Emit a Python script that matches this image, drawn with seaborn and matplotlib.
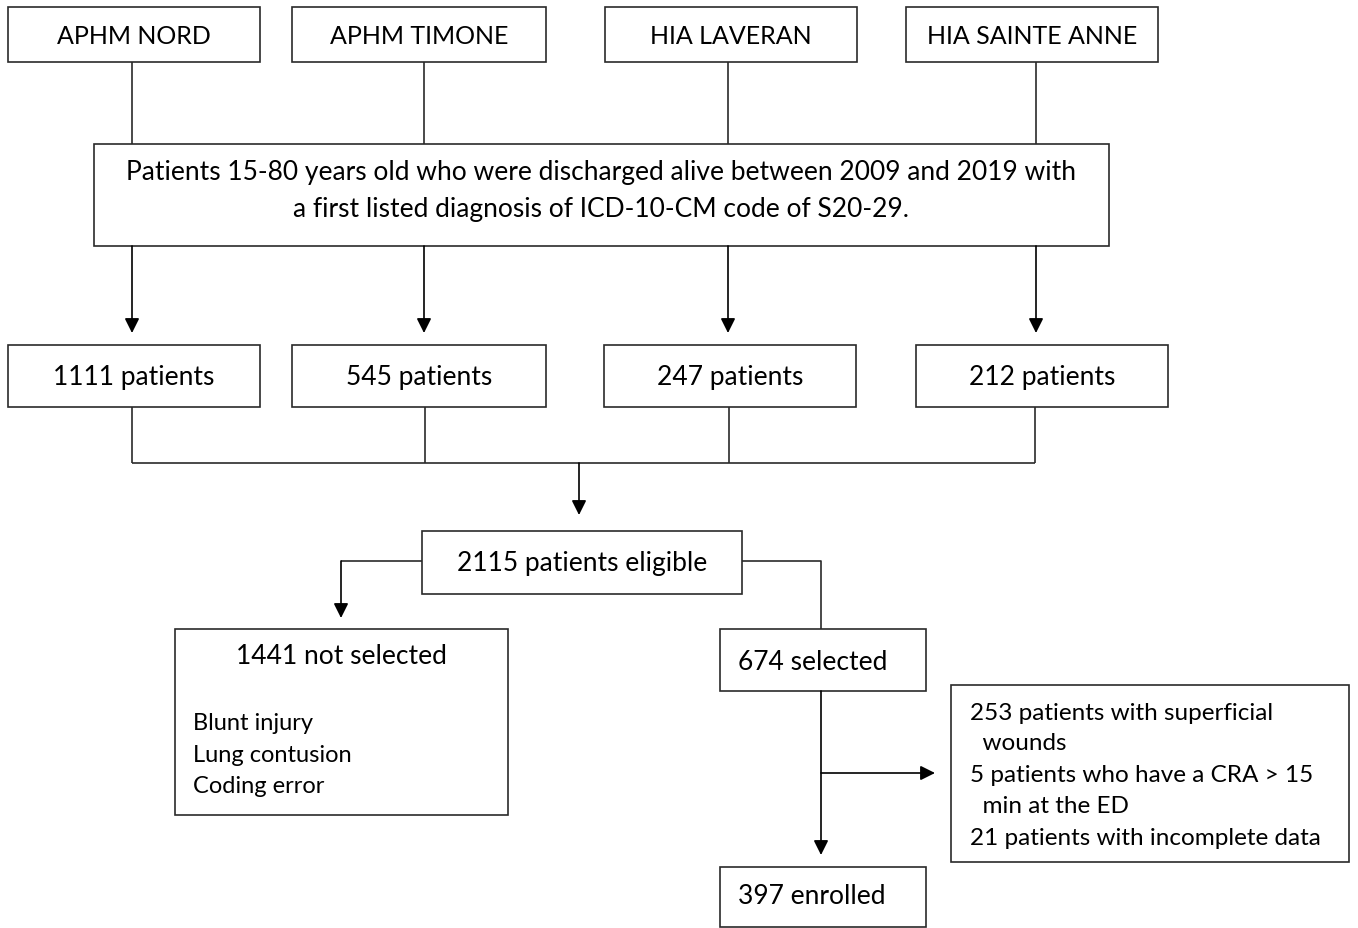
import seaborn as sns
import matplotlib.pyplot as plt
from matplotlib.patches import Rectangle

sns.set_style("white")
plt.rcParams['font.family'] = ['Lato', 'DejaVu Sans']

# Datos del diagrama de flujo
centros = ["APHM NORD", "APHM TIMONE", "HIA LAVERAN", "HIA SAINTE ANNE"]
pacientes_centro = [1111, 545, 247, 212]
criterio = ["Patients 15-80 years old who were discharged alive between 2009 and 2019 with",
            "a first listed diagnosis of ICD-10-CM code of S20-29."]
elegibles = 2115
no_seleccionados = 1441
motivos_no = ["Blunt injury", "Lung contusion", "Coding error"]
seleccionados = 674
exclusiones = ["253 patients with superficial", "  wounds",
               "5 patients who have a CRA > 15", "  min at the ED",
               "21 patients with incomplete data"]
incluidos = 397

W, H = 1358, 929
fig = plt.figure(figsize=(W / 100, H / 100), dpi=100)
ax = fig.add_axes([0, 0, 1, 1])
ax.set_xlim(0, W)
ax.set_ylim(H, 0)
ax.axis('off')

COL = '#2a2a2a'
FS = 18.5


def caja(x0, y0, x1, y1):
    ax.add_patch(Rectangle((x0, y0), x1 - x0, y1 - y0, fill=False,
                           edgecolor=COL, linewidth=1.2))


def linea(xs, ys):
    ax.plot(xs, ys, color=COL, linewidth=1.2, solid_capstyle='butt')


def flecha(x0, y0, x1, y1):
    ax.annotate('', xy=(x1, y1), xytext=(x0, y0),
                arrowprops=dict(arrowstyle='-|>', color='black', lw=1.2,
                                mutation_scale=22, shrinkA=0, shrinkB=0))


def texto(x, y, s, ha='center', fs=FS):
    ax.text(x, y, s, ha=ha, va='center', fontsize=fs, color='black')


# Fila superior: centros
cajas_top = [(8, 260), (292, 546), (605, 857), (906, 1158)]
x_top = [132, 424, 728, 1036]
for (a, b), nombre, xc in zip(cajas_top, centros, x_top):
    caja(a, 8, b, 63)
    texto((a + b) / 2, 36, nombre, fs=18)
    linea([xc, xc], [63, 145])

# Caja de criterio
caja(94, 145, 1109, 247)
texto(601, 172, criterio[0], fs=19)
texto(601, 209, criterio[1], fs=19)

# Fila de pacientes por centro
cajas_pac = [(8, 260), (292, 546), (604, 856), (916, 1168)]
x_bot = [132, 425, 729, 1035]
for xc in x_top:
    flecha(xc, 247, xc, 334)
for (a, b), n, xb in zip(cajas_pac, pacientes_centro, x_bot):
    caja(a, 346, b, 408)
    texto((a + b) / 2, 377, f"{n} patients", fs=19)
    linea([xb, xb], [408, 464])
linea([x_bot[0], x_bot[-1]], [464, 464])
flecha(579, 464, 579, 516)

# Elegibles
caja(422, 532, 742, 595)
texto(582, 564, f"{elegibles} patients eligible", fs=19)

# Rama no seleccionados
linea([422, 341], [562, 562])
flecha(341, 562, 341, 619)
caja(175, 630, 508, 816)
texto(341, 657, f"{no_seleccionados} not selected", fs=19)
for i, m in enumerate(motivos_no):
    texto(193, 723 + 32 * i, m, ha='left', fs=17)

# Rama seleccionados
linea([742, 821, 821], [562, 562, 630])
caja(720, 630, 926, 692)
texto(738, 662, f"{seleccionados} selected", ha='left', fs=19)
flecha(821, 692, 821, 856)
flecha(821, 774, 935, 774)

# Exclusiones
caja(951, 686, 1349, 863)
y_exc = [714, 744, 776, 807, 839]
for t, yy in zip(exclusiones, y_exc):
    texto(970, yy, t, ha='left', fs=17.5)

# Incluidos
caja(720, 868, 926, 928)
texto(738, 897, f"{incluidos} enrolled", ha='left', fs=19)

fig.savefig('out.png', dpi=100, facecolor='white')
